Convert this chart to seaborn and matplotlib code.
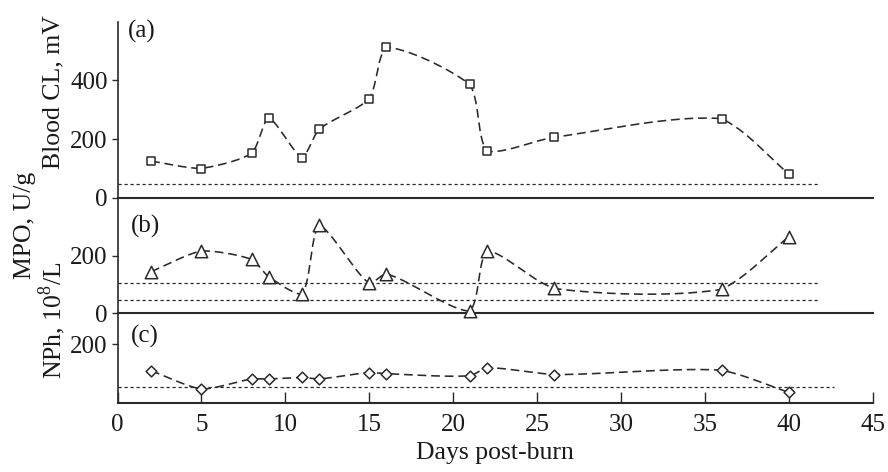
import numpy as np
import pandas as pd
import matplotlib
matplotlib.use("Agg")
import matplotlib.pyplot as plt
import seaborn as sns

# ---------------- data ----------------
days = [2, 5, 8, 9, 11, 12, 15, 16, 21, 22, 26, 36, 40]
blood_cl = [125, 100, 151, 273, 137, 233, 336, 512, 385, 159, 206, 269, 81]
mpo = [145, 218, 188, 127, 65, 310, 104, 137, 6, 219, 86, 83, 268]
nph = [110, 47, 82, 82, 87, 82, 104, 100, 93, 120, 97, 112, 36]

blood_ref = [48]
mpo_ref = [106, 44]
nph_ref = [56]

x_ticks = [0, 5, 10, 15, 20, 25, 30, 35, 40, 45]
a_ticks = [0, 200, 400]
b_ticks = [0, 200]
c_ticks = [200]

sns.set_theme(style="ticks")
plt.rcParams["font.family"] = ["Liberation Serif", "DejaVu Serif"]
plt.rcParams["mathtext.fontset"] = "custom"
plt.rcParams["mathtext.rm"] = "Liberation Serif"

W, H = 888, 472
fig = plt.figure(figsize=(W / 100, H / 100), dpi=100)

left_px, right_px = 117.5, 873
def add_ax(top_px, bot_px):
    return fig.add_axes([left_px / W, 1 - bot_px / H,
                         (right_px - left_px) / W, (bot_px - top_px) / H])

ax_a = add_ax(22, 198)
ax_b = add_ax(198, 313)
ax_c = add_ax(313, 403)

INK = "#2a2a2a"
TXT = "#1a1a1a"
XMAX = 45
ylims = {"a": (0, 597), "b": (0, 403), "c": (0, 307)}


def smooth_curve(xs, ys, sx, sy, n=60, alpha=0.5, relax=0.45):
    """Centripetal Catmull-Rom through the data points (screen-scaled),
    relaxed toward the straight chords to reduce overshoot."""
    P = np.column_stack([np.asarray(xs, float) * sx, np.asarray(ys, float) * sy])
    P = np.vstack([2 * P[0] - P[1], P, 2 * P[-1] - P[-2]])
    out = []
    for i in range(1, len(P) - 2):
        p0, p1, p2, p3 = P[i - 1], P[i], P[i + 1], P[i + 2]
        t0 = 0.0
        t1 = t0 + np.linalg.norm(p1 - p0) ** alpha
        t2 = t1 + np.linalg.norm(p2 - p1) ** alpha
        t3 = t2 + np.linalg.norm(p3 - p2) ** alpha
        t = np.linspace(t1, t2, n)[:, None]
        A1 = (t1 - t) / (t1 - t0) * p0 + (t - t0) / (t1 - t0) * p1
        A2 = (t2 - t) / (t2 - t1) * p1 + (t - t1) / (t2 - t1) * p2
        A3 = (t3 - t) / (t3 - t2) * p2 + (t - t2) / (t3 - t2) * p3
        B1 = (t2 - t) / (t2 - t0) * A1 + (t - t0) / (t2 - t0) * A2
        B2 = (t3 - t) / (t3 - t1) * A2 + (t - t1) / (t3 - t1) * A3
        C = (t2 - t) / (t2 - t1) * B1 + (t - t1) / (t2 - t1) * B2
        u = (t - t1) / (t2 - t1)
        L = (1 - u) * p1 + u * p2
        C = (1 - relax) * C + relax * L
        out.append(C if i == len(P) - 3 else C[:-1])
    C = np.vstack(out)
    return C[:, 0] / sx, C[:, 1] / sy


panels = [
    (ax_a, blood_cl, blood_ref, "s", 28, "a", 176, 41.7),
    (ax_b, mpo, mpo_ref, "^", 80, "b", 115, 41.7),
    (ax_c, nph, nph_ref, "D", 30, "c", 90, 42.7),
]

sx = (right_px - left_px) / XMAX
for ax, vals, refs, mk, ms, key, hpx, ref_end in panels:
    lo, hi = ylims[key]
    sy = hpx / (hi - lo)
    cx, cy = smooth_curve(days, vals, sx, sy)
    curve = pd.DataFrame({"x": cx, "y": cy})
    sns.lineplot(data=curve, x="x", y="y", ax=ax, sort=False, estimator=None,
                 color=INK, lw=1.15, linestyle=(0, (5.5, 3)))
    for r in refs:
        ref_df = pd.DataFrame({"x": [0, ref_end], "y": [r, r]})
        sns.lineplot(data=ref_df, x="x", y="y", ax=ax, color=INK, lw=0.9,
                     linestyle=(0, (2.6, 2.2)))
    pts = pd.DataFrame({"day": days, "v": vals})
    sns.scatterplot(data=pts, x="day", y="v", ax=ax, marker=mk, s=ms,
                    facecolor="white", edgecolor=INK, linewidth=1.1,
                    zorder=5, clip_on=False)
    ax.set_xlim(0, XMAX)
    ax.set_ylim(lo, hi)
    ax.set_xlabel("")
    ax.set_ylabel("")
    for s in ("top", "right"):
        ax.spines[s].set_visible(False)
    ax.spines["left"].set_color(INK)
    ax.spines["bottom"].set_color(INK)
    ax.spines["left"].set_linewidth(1.2)
    ax.spines["bottom"].set_linewidth(1.5)
    ax.set_facecolor("none")
    ax.tick_params(axis="y", direction="out", length=4, width=1.0,
                   colors=INK, labelsize=18, pad=3)
    ax.tick_params(axis="y", labelcolor=TXT)

ax_a.set_yticks(a_ticks)
ax_b.set_yticks(b_ticks)
ax_c.set_yticks(c_ticks)
for ax in (ax_a, ax_b):
    ax.set_xticks([])
ax_c.set_xticks(x_ticks)
ax_c.tick_params(axis="x", direction="in", length=8, width=1.0, colors=INK,
                 labelsize=18, labelcolor=TXT, pad=8)
ax_c.set_xlabel("Days post-burn", fontsize=18.5, color=TXT, labelpad=4)

# panel letters
fig.text(128 / W, 1 - 31 / H, "(a)", fontsize=18, va="center", ha="left", color=TXT)
fig.text(131 / W, 1 - 226 / H, "(b)", fontsize=18, va="center", ha="left", color=TXT)
fig.text(131 / W, 1 - 336 / H, "(c)", fontsize=18, va="center", ha="left", color=TXT)

# y-axis labels
fig.text(53 / W, 1 - 92 / H, "Blood CL, mV", rotation=90, fontsize=18.5,
         va="center", ha="center", color=TXT)
fig.text(25 / W, 1 - 225 / H, "MPO, U/g", rotation=90, fontsize=18.5,
         va="center", ha="center", color=TXT)
fig.text(52 / W, 1 - 320 / H, "NPh, 10$^8$/L", rotation=90, fontsize=18.5,
         va="center", ha="center", color=TXT)

fig.savefig("out.png", dpi=100)
